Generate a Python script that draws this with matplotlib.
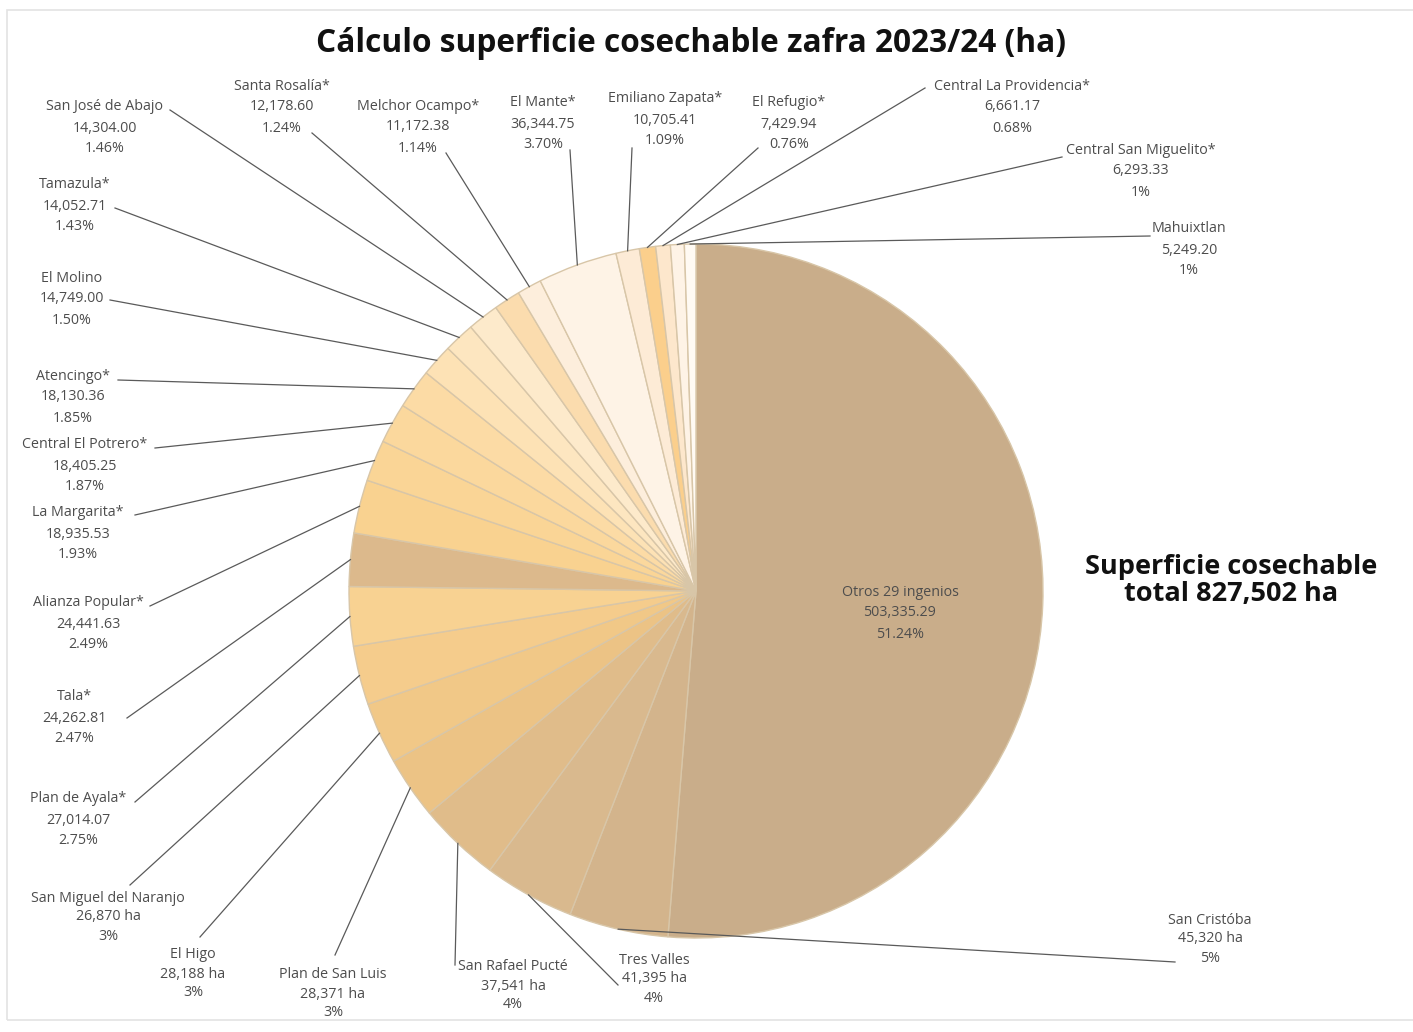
import numpy as np
import matplotlib.pyplot as plt
from matplotlib.patches import Rectangle

plt.rcParams['font.family'] = ['Open Sans', 'DejaVu Sans']

# data, clockwise from 12 o'clock
names = ["Otros 29 ingenios", "San Cristóba", "Tres Valles", "San Rafael Pucté",
         "Plan de San Luis", "El Higo", "San Miguel del Naranjo", "Plan de Ayala*",
         "Tala*", "Alianza Popular*", "La Margarita*", "Central El Potrero*",
         "Atencingo*", "El Molino", "Tamazula*", "San José de Abajo", "Santa Rosalía*",
         "Melchor Ocampo*", "El Mante*", "Emiliano Zapata*", "El Refugio*",
         "Central La Providencia*", "Central San Miguelito*", "Mahuixtlan"]
values = [503335.29, 45320, 41395, 37541, 28371, 28188, 26870, 27014.07,
          24262.81, 24441.63, 18935.53, 18405.25, 18130.36, 14749.00, 14052.71,
          14304.00, 12178.60, 11172.38, 36344.75, 10705.41, 7429.94, 6661.17,
          6293.33, 5249.20]
value_txt = ["503,335.29", "45,320 ha", "41,395 ha", "37,541 ha", "28,371 ha",
             "28,188 ha", "26,870 ha", "27,014.07", "24,262.81", "24,441.63",
             "18,935.53", "18,405.25", "18,130.36", "14,749.00", "14,052.71",
             "14,304.00", "12,178.60", "11,172.38", "36,344.75", "10,705.41",
             "7,429.94", "6,661.17", "6,293.33", "5,249.20"]
pct_txt = ["51.24%", "5%", "4%", "4%", "3%", "3%", "3%", "2.75%", "2.47%", "2.49%",
           "1.93%", "1.87%", "1.85%", "1.50%", "1.43%", "1.46%", "1.24%", "1.14%",
           "3.70%", "1.09%", "0.76%", "0.68%", "1%", "1%"]

title = "Cálculo superficie cosechable zafra 2023/24 (ha)"
total_txt = "Superficie cosechable\ntotal 827,502 ha"

# styling / layout (pixel coordinates from the top-left corner)
colors = ["#c9ad8a", "#d3b48c", "#d9b98e", "#e0bc8a", "#ecc385", "#f1c887",
          "#f5cc8c", "#f8d292", "#dcb98c", "#f9d290", "#fad596", "#fbd89d",
          "#fcdba5", "#fde2b5", "#fde6c0", "#fdeacb", "#fbdcae", "#fdeedc",
          "#fef3e6", "#fdebd6", "#fbcf8c", "#fde7cc", "#fef3e6", "#fffaf3"]
text_x = [900, 1210, 654, 513, 333, 193, 108, 78, 74, 88, 78, 85, 73, 72, 75,
          105, 282, 418, 543, 665, 789, 1012, 1141, 1189]
text_y = [613, 939, 979, 986, 994, 974, 917, 820, 718, 624, 534, 466, 397, 299,
          206, 128, 107, 127, 124, 120, 124, 107, 171, 250]
end_x = [None, 1175, 618, 455, 335, 200, 130, 135, 127, 150, 135, 155, 118, 110,
         115, 170, 312, 446, 570, 632, 758, 925, 1062, 1150]
end_y = [None, 962, 985, 965, 955, 937, 885, 802, 718, 606, 515, 448, 380, 300,
         208, 110, 133, 153, 150, 148, 148, 88, 157, 236]

W, H = 1413, 1032
cx, cy, R = 696, 591, 347

fig = plt.figure(figsize=(W / 100, H / 100), dpi=100)
ax = fig.add_axes([0, 0, 1, 1])

ax.add_patch(Rectangle((7, H - 1020), W, 1010, fill=False, edgecolor='#e3e3e3', lw=1.2))

wedges, _ = ax.pie(values, colors=colors, startangle=90, counterclock=False,
                   center=(cx, H - cy), radius=R, frame=True,
                   wedgeprops=dict(edgecolor='#d8c6a8', linewidth=1.0))
ax.set_xlim(0, W)
ax.set_ylim(0, H)
ax.set_aspect('equal')
ax.axis('off')

tc = '#4d4d4d'
for i, w in enumerate(wedges):
    gap = 19 if value_txt[i].endswith('ha') else 21
    lines = [names[i], value_txt[i], pct_txt[i]]
    for k, s in enumerate(lines):
        ax.text(text_x[i], H - (text_y[i] + (k - 1) * gap), s, ha='center',
                va='center', fontsize=10.3, color=tc, zorder=5)
    if end_x[i] is None:
        continue
    mid = np.deg2rad((w.theta1 + w.theta2) / 2)
    px = cx + R * np.cos(mid)
    py = (H - cy) + R * np.sin(mid)
    ax.plot([px, end_x[i]], [py, H - end_y[i]], color='#5a5a5a', lw=0.9, zorder=4)

ax.text(691, H - 44, title, ha='center', va='center', fontsize=22.8,
        fontweight='bold', color='#111111')
ax.text(1231, H - 581, total_txt, ha='center', va='center', fontsize=19.5,
        fontweight='bold', color='#111111', linespacing=1.05)

fig.savefig('out.png', dpi=100)
